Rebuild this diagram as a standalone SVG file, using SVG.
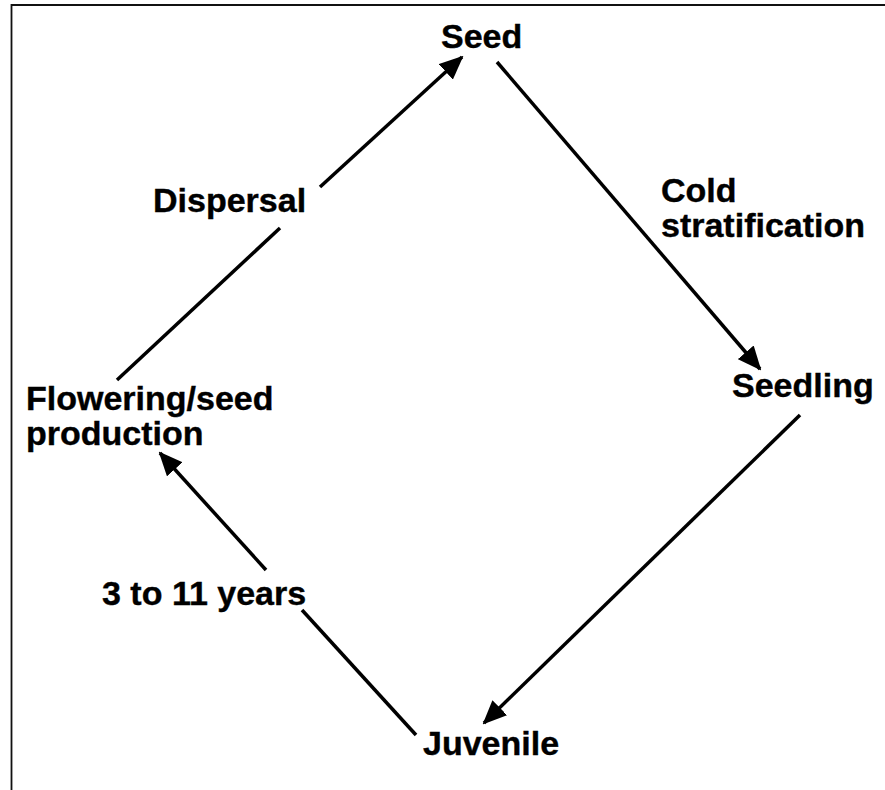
<svg xmlns="http://www.w3.org/2000/svg" width="885" height="790" viewBox="0 0 885 790">
<style>
.lbl{font-family:"Liberation Sans",Arial,sans-serif;font-weight:bold;font-size:34px;fill:#000;stroke:#000;stroke-width:0.4}
.edge{stroke:#000;stroke-width:3.5;fill:none}
.frame{stroke:#111;stroke-width:1.8;fill:none}
</style>
<defs>
<marker id="ah" viewBox="0 0 24 21" refX="22" refY="10.5" markerWidth="24" markerHeight="21" markerUnits="userSpaceOnUse" orient="auto">
<path d="M0,0 L24,10.5 L0,21 z" fill="#000"/>
</marker>
</defs>
<rect width="885" height="790" fill="#fff"/>
<path class="frame" d="M11.5,790 L11.5,5 L885,5"/>
<g id="connectors">
<line class="edge" x1="117" y1="380" x2="280" y2="228"/>
<line class="edge" x1="320" y1="187" x2="462" y2="57" marker-end="url(#ah)"/>
<line class="edge" x1="497" y1="62" x2="760" y2="369" marker-end="url(#ah)"/>
<line class="edge" x1="800" y1="415" x2="484" y2="723" marker-end="url(#ah)"/>
<line class="edge" x1="416" y1="735" x2="302" y2="610"/>
<line class="edge" x1="266" y1="570" x2="160" y2="453" marker-end="url(#ah)"/>
</g>
<g id="seed"><text class="lbl" x="441" y="48">Seed</text></g>
<g id="seedling"><text class="lbl" x="732" y="397">Seedling</text></g>
<g id="juvenile"><text class="lbl" x="423" y="755">Juvenile</text></g>
<g id="flowering"><text class="lbl" x="26" y="410">Flowering/seed</text><text class="lbl" x="26" y="445">production</text></g>
<g id="label-dispersal"><text class="lbl" x="153" y="212">Dispersal</text></g>
<g id="label-cold"><text class="lbl" x="661" y="202">Cold</text><text class="lbl" x="661" y="237">stratification</text></g>
<g id="label-years"><text class="lbl" x="102" y="605">3 to 11 years</text></g>
</svg>
